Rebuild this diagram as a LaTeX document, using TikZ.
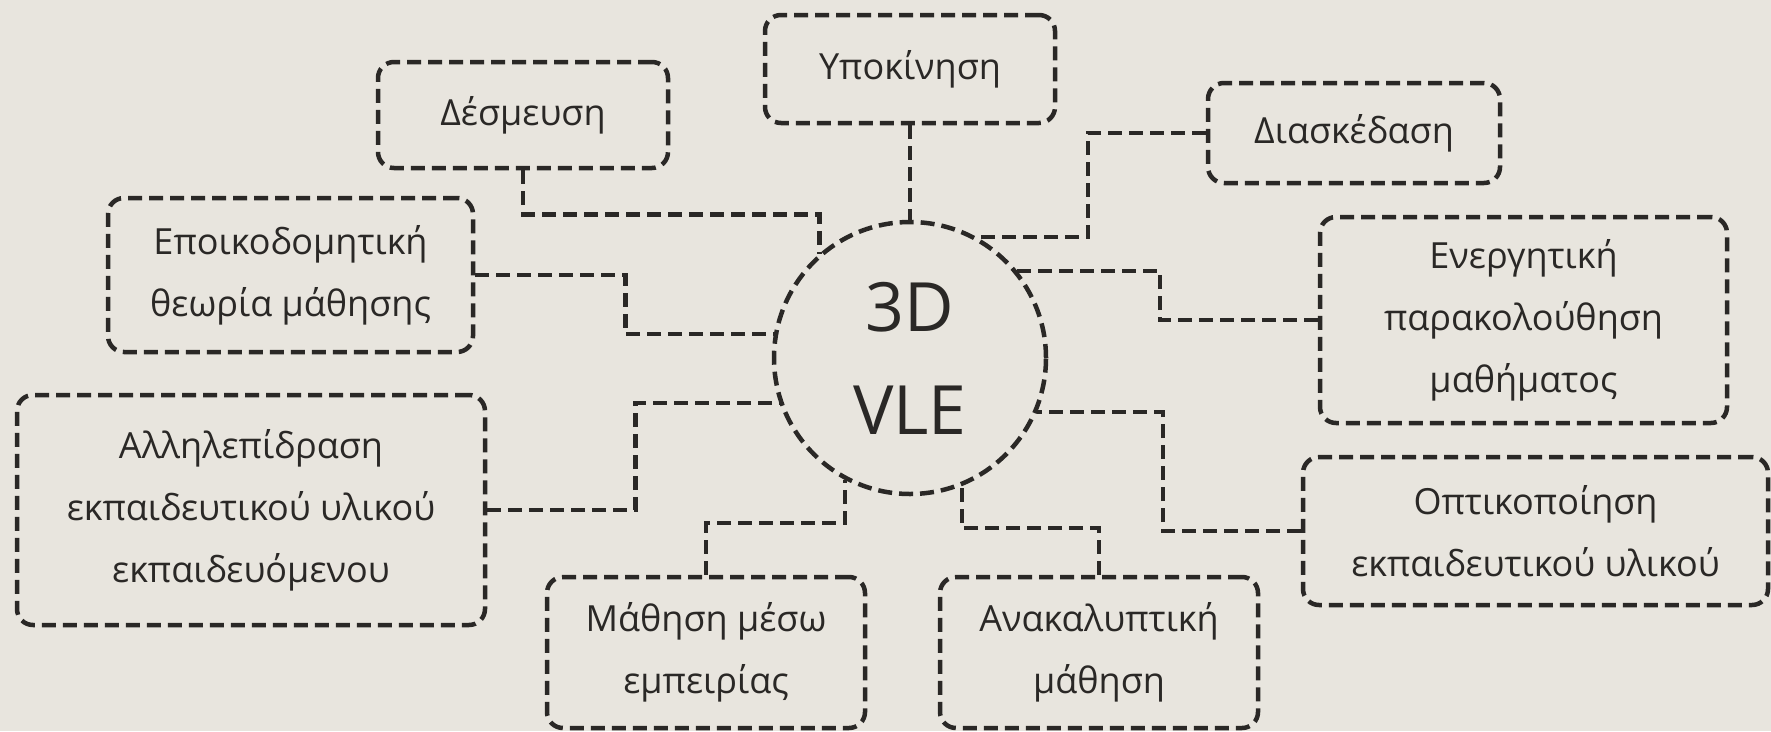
\documentclass[tikz,border=0pt]{standalone}
\usepackage{fontspec}
\setmainfont{Open Sans}
\definecolor{ink}{RGB}{42,40,38}
\definecolor{bgc}{RGB}{232,229,222}
\tikzset{
  bx/.style={draw=ink, line width=4.5pt, dash pattern=on 14pt off 7pt,
    rounded corners=16pt, align=center, inner sep=0pt, text=ink,
    font=\fontsize{36}{62}\selectfont},
  lnk/.style={draw=ink, line width=4.5pt, dash pattern=on 14pt off 7pt},
  hub/.style={draw=ink, line width=4.5pt, dash pattern=on 14pt off 7pt,
    circle, minimum size=272pt, inner sep=0pt, align=center, text=ink,
    font=\fontsize{68}{103}\selectfont}
}
\begin{document}
\begin{tikzpicture}[x=1pt,y=-1pt]
\fill[bgc] (0,0) rectangle (1771,731);
\node[bx, minimum width=290pt, minimum height=108pt] (yp) at (910,69) {Υποκίνηση};
\node[bx, minimum width=290pt, minimum height=106pt] (des) at (523,115) {Δέσμευση};
\node[bx, minimum width=292pt, minimum height=100pt] (dia) at (1354,133) {Διασκέδαση};
\node[bx, minimum width=365pt, minimum height=154pt] (ep) at (290.5,275) {Εποικοδομητική\\θεωρία μάθησης};
\node[bx, minimum width=407pt, minimum height=206pt] (en) at (1523.5,320) {Ενεργητική\\παρακολούθηση\\μαθήματος};
\node[bx, minimum width=468pt, minimum height=230pt] (al) at (251,510) {Αλληλεπίδραση\\εκπαιδευτικού υλικού\\εκπαιδευόμενου};
\node[bx, minimum width=465pt, minimum height=148pt] (op) at (1535.5,531) {Οπτικοποίηση\\εκπαιδευτικού υλικού};
\node[bx, minimum width=318pt, minimum height=151pt] (ma) at (706,652.5) {Μάθηση μέσω\\εμπειρίας};
\node[bx, minimum width=318pt, minimum height=151pt] (an) at (1099,652.5) {Ανακαλυπτική\\μάθηση};
\node[hub] (c) at (910,358) {3D\\VLE};
\draw[lnk] (yp.south) -- (c.north);
\draw[lnk] (des.south) -- ++(0,44) -| (c.131.4);
\draw[lnk] (dia.west) -- ++(-118,0) |- (c.61.9);
\draw[lnk] (ep.east) -- ++(150,0) |- (c.170.3);
\draw[lnk] (en.west) -- ++(-158,0) |- (c.39.2);
\draw[lnk] (al.east) -- ++(148,0) |- (c.199.3);
\draw[lnk] (op.west) -- ++(-138,0) |- (c.337.5);
\draw[lnk] (ma.north) -- ++(0,-52) -| (c.242.9);
\draw[lnk] (an.north) -- ++(0,-47) -| (c.292.95);
\end{tikzpicture}
\end{document}
